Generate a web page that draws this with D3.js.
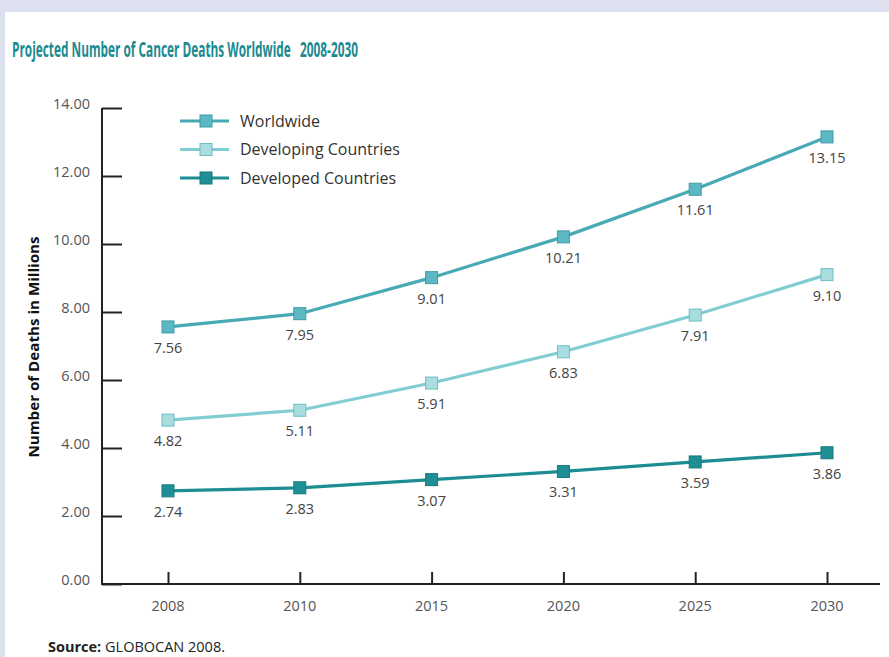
<!DOCTYPE html>
<html><head><meta charset="utf-8">
<script src="https://cdn.jsdelivr.net/npm/d3@7"></script>
<style>html,body{margin:0;padding:0;background:#dde0ef;}svg{display:block;}</style>
</head><body>
<script>
const years = ["2008","2010","2015","2020","2025","2030"];
const worldwide = [7.56, 7.95, 9.01, 10.21, 11.61, 13.15];
const developing = [4.82, 5.11, 5.91, 6.83, 7.91, 9.10];
const developed = [2.74, 2.83, 3.07, 3.31, 3.59, 3.86];
const seriesNames = ["Worldwide", "Developing Countries", "Developed Countries"];
const yTicks = [0, 2, 4, 6, 8, 10, 12, 14];

const W = 889, H = 657;
const svg = d3.select("body").append("svg").attr("width", W).attr("height", H);
svg.append("rect").attr("width", W).attr("height", H).attr("fill", "#dde0ef");
svg.append("rect").attr("x", 5).attr("y", 12).attr("width", W - 5).attr("height", H - 12).attr("fill", "#ffffff");

const font = "'Open Sans', sans-serif";

svg.append("text").attr("x", 12).attr("y", 57)
  .attr("font-family", "'Open Sans', sans-serif").attr("font-weight", 700).attr("font-size", 22)
  .attr("fill", "#1c8a90").attr("textLength", 346).attr("lengthAdjust", "spacingAndGlyphs")
  .attr("xml:space", "preserve")
  .text("Projected Number of Cancer Deaths Worldwide   2008-2030");

const x = d3.scalePoint().domain(years).range([168, 827]);
const y = d3.scaleLinear().domain([0, 14]).range([584, 108]);

// Y axis
const gy = svg.append("g").attr("transform", "translate(102,0)")
  .call(d3.axisRight(y).tickValues(yTicks).tickSize(20).tickFormat(() => ""));
gy.select(".domain").attr("stroke", "#222").attr("stroke-width", 2).attr("d", `M0,${y(14)}V${y(0)}`);
gy.selectAll(".tick line").attr("stroke", "#222").attr("stroke-width", 2);
svg.append("g").selectAll("text").data(yTicks).join("text")
  .attr("x", 90).attr("y", d => y(d) + 1).attr("text-anchor", "end")
  .attr("font-family", font).attr("font-size", 14.5).attr("fill", "#555")
  .text(d => d3.format(".2f")(d));

// X axis
const gx = svg.append("g").attr("transform", `translate(0,${y(0)})`)
  .call(d3.axisTop(x).tickSize(12).tickFormat(() => ""));
gx.select(".domain").attr("stroke", "#222").attr("stroke-width", 2).attr("d", "M101,0H880");
gx.selectAll(".tick line").attr("stroke", "#222").attr("stroke-width", 2);
svg.append("g").selectAll("text").data(years).join("text")
  .attr("x", d => x(d)).attr("y", 611).attr("text-anchor", "middle")
  .attr("font-family", font).attr("font-size", 14.5).attr("fill", "#555")
  .text(d => d);

// Y title
svg.append("text").attr("transform", "translate(39,347) rotate(-90)")
  .attr("text-anchor", "middle").attr("font-family", font).attr("font-weight", 700)
  .attr("font-size", 14).attr("fill", "#111")
  .attr("textLength", 221).attr("lengthAdjust", "spacingAndGlyphs")
  .text("Number of Deaths in Millions");

const styles = [
  {data: worldwide, line: "#48aab5", fill: "#5cb9c3", stroke: "#3a9ba6"},
  {data: developing, line: "#82cdd1", fill: "#a9dde0", stroke: "#6cbfc5"},
  {data: developed, line: "#1d8d93", fill: "#1f8f95", stroke: "#17797f"}
];

const line = d3.line().x((d, i) => x(years[i])).y(d => y(d));
styles.forEach(s => {
  const g = svg.append("g");
  g.append("path").attr("d", line(s.data)).attr("fill", "none")
    .attr("stroke", s.line).attr("stroke-width", 3.2);
  g.selectAll("rect").data(s.data).join("rect")
    .attr("x", (d, i) => x(years[i]) - 6).attr("y", d => y(d) - 6)
    .attr("width", 12).attr("height", 12)
    .attr("fill", s.fill).attr("stroke", s.stroke).attr("stroke-width", 1);
  g.selectAll("text").data(s.data).join("text")
    .attr("x", (d, i) => x(years[i])).attr("y", d => y(d) + 26)
    .attr("text-anchor", "middle").attr("font-family", font).attr("font-size", 14.5)
    .attr("fill", "#444").text(d => d3.format(".2f")(d));
});

// Legend
const lg = svg.append("g");
seriesNames.forEach((name, i) => {
  const s = styles[i];
  const ly = 121 + i * 28.5;
  lg.append("line").attr("x1", 180).attr("x2", 229).attr("y1", ly).attr("y2", ly)
    .attr("stroke", s.line).attr("stroke-width", 3.2);
  lg.append("rect").attr("x", 200).attr("y", ly - 6).attr("width", 12).attr("height", 12)
    .attr("fill", s.fill).attr("stroke", s.stroke);
  lg.append("text").attr("x", 240).attr("y", ly + 5.5).attr("font-family", font)
    .attr("font-size", 16).attr("fill", "#333").text(name);
});

// Source
const src = svg.append("text").attr("x", 48).attr("y", 652).attr("font-family", font)
  .attr("font-size", 14.5).attr("fill", "#222");
src.append("tspan").attr("font-weight", 700).text("Source:");
src.append("tspan").text(" GLOBOCAN 2008.");
</script>
</body></html>
